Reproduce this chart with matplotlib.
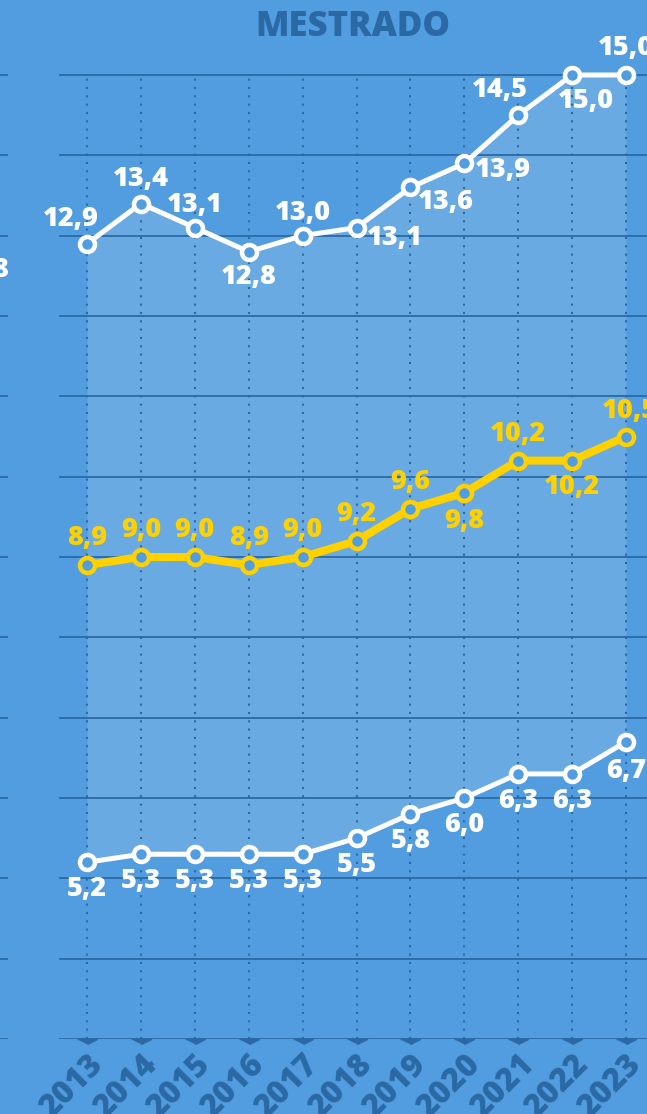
import matplotlib.pyplot as plt

years = [2013, 2014, 2015, 2016, 2017, 2018, 2019, 2020, 2021, 2022, 2023]
top_vals = [12.9, 13.4, 13.1, 12.8, 13.0, 13.1, 13.6, 13.9, 14.5, 15.0, 15.0]
mid_vals = [8.9, 9.0, 9.0, 8.9, 9.0, 9.2, 9.6, 9.8, 10.2, 10.2, 10.5]
low_vals = [5.2, 5.3, 5.3, 5.3, 5.3, 5.5, 5.8, 6.0, 6.3, 6.3, 6.7]

# label offsets in pixels (dx, dy), up is positive
top_off = [(-16, 25), (0, 25), (0, 23), (0, -25), (0, 23), (38, -10),
           (35, -15), (39, -7), (-18, 25), (14, -26), (0, 27)]
mid_off = [(0, 27)] * 7 + [(0, -28), (0, 27), (0, -26), (4, 26)]
low_off = [(0, -27)] * 10 + [(0, -29)]

bg = "#519ddf"
fill_c = "#69aae3"
dark = "#2b69a5"
yellow = "#ffd100"
plt.rcParams['font.family'] = ['Open Sans', 'DejaVu Sans']

W, H = 647, 1114
fig = plt.figure(figsize=(W / 100, H / 100), dpi=100, facecolor=bg)
ax = fig.add_axes([59 / W, (H - 1039) / H, (W - 59) / W, (1039 - 35) / H])
ax.set_facecolor(bg)
ax.set_xlim(2012.48, 2023.39)
ax.set_ylim(3, 15.498)
for s in ax.spines.values():
    s.set_visible(False)
ax.set_yticks([])

for v in range(3, 16):
    ax.axhline(v, color=dark, lw=1.3 if v > 3 else 2, zorder=1)
ax.vlines(years, 3, 15, color=dark, lw=1.5, linestyles=(0, (1, 3)), zorder=1)

ax.fill_between(years, low_vals, top_vals, color=fill_c, lw=0, zorder=0.5)

px = 0.72
ax.plot(years, top_vals, color="white", lw=5 * px, marker="o", ms=15 * px,
        mfc=bg, mec="white", mew=4.5 * px, zorder=5, clip_on=False)
ax.plot(years, mid_vals, color=yellow, lw=8 * px, marker="o", ms=15 * px,
        mfc=bg, mec=yellow, mew=4.5 * px, zorder=5, clip_on=False)
ax.plot(years, low_vals, color="white", lw=5 * px, marker="o", ms=15 * px,
        mfc=bg, mec="white", mew=4.5 * px, zorder=5, clip_on=False)

def labels(vals, offs, color):
    for x, v, (dx, dy) in zip(years, vals, offs):
        ax.annotate(f"{v:.1f}".replace(".", ","), (x, v), xytext=(dx * px, dy * px),
                    textcoords="offset points", ha="center", va="center",
                    color=color, fontsize=19.5, fontweight="heavy", zorder=6,
                    annotation_clip=False)

labels(top_vals, top_off, "white")
labels(mid_vals, mid_off, yellow)
labels(low_vals, low_off, "white")

# triangles under the base line
tri = [(-1, 0), (1, 0), (0, -0.5)]
ax.plot(years, [3] * len(years), linestyle="none", marker=tri, ms=20 * px,
        color=dark, clip_on=False, zorder=4)

ax.set_xticks(years)
ax.set_xticklabels([str(y) for y in years], rotation=45, ha="right", va="top",
                   rotation_mode="anchor", color=dark, fontsize=23, fontweight="heavy")
ax.tick_params(axis="x", length=0, pad=7)

fig.text((59 + W) / 2 / W, 1 - 27 / H, "MESTRADO", color=dark, fontsize=25,
         fontweight="heavy", ha="center", va="center")

# piece of the neighbouring panel on the left
ax0 = fig.add_axes([0, (H - 1039) / H, 8 / W, (1039 - 35) / H])
ax0.set_ylim(3, 15.498)
ax0.axis("off")
for v in range(3, 16):
    ax0.axhline(v, color=dark, lw=1.3)
fig.text(8 / W, 1 - 270 / H, "8", color="white", fontsize=19.5, fontweight="heavy",
         ha="right", va="center")

fig.savefig("out.png", dpi=100, facecolor=bg)
